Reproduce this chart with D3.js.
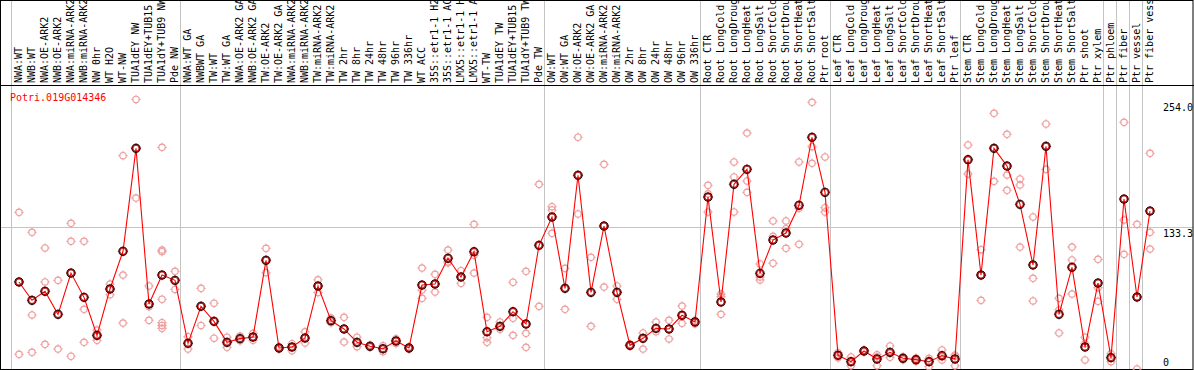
<!DOCTYPE html>
<html>
<head>
<meta charset="utf-8">
<script src="https://cdn.jsdelivr.net/npm/d3@7"></script>
<style>
  body { margin: 0; background: #fff; }
  text { font-family: "DejaVu Sans Mono", monospace; font-size: 10px; }
</style>
</head>
<body>
<svg id="chart" width="1194" height="370"></svg>
<script>

var geneName = "Potri.019G014346";

var samples = [
    "NWA:WT", "NWB:WT", "NWA:OE-ARK2", "NWB:OE-ARK2", "NWA:miRNA-ARK2", "NWB:miRNA-ARK2",
    "NW 0hr", "WT H2O", "WT-NW", "TUA1dEY NW", "TUA1dEY+TUB15 NW", "TUA1dY+TUB9 NW", "Pde NW",
    "NWA:WT GA", "NWBWT GA", "TW:WT", "TW:WT GA", "NWA:OE-ARK2 GA", "NWB:OE-ARK2 GA",
    "TW:OE-ARK2", "TW:OE-ARK2 GA", "NWA:miRNA-ARK2 GA", "NWB:miRNA-ARK2 GA", "TW:miRNA-ARK2",
    "TW:miRNA-ARK2 GA", "TW 2hr", "TW 8hr", "TW 24hr", "TW 48hr", "TW 96hr", "TW 336hr",
    "WT ACC", "35S::etr1-1 H2O", "35S::etr1-1 ACC", "LMX5::etr1-1 H2O", "LMX5::etr1-1 ACC",
    "WT-TW", "TUA1dEY TW", "TUA1dEY+TUB15 TW", "TUA1dY+TUB9 TW", "Pde TW",
    "OW:WT", "OW:WT GA", "OW:OE-ARK2", "OW:OE-ARK2 GA", "OW:miRNA-ARK2", "OW:miRNA-ARK2 GA",
    "OW 2hr", "OW 8hr", "OW 24hr", "OW 48hr", "OW 96hr", "OW 336hr",
    "Root CTR", "Root LongCold", "Root LongDrought", "Root LongHeat", "Root LongSalt",
    "Root ShortCold", "Root ShortDrought", "Root ShortHeat", "Root ShortSalt", "Ptr root",
    "Leaf CTR", "Leaf LongCold", "Leaf LongDrought", "Leaf LongHeat", "Leaf LongSalt",
    "Leaf ShortCold", "Leaf ShortDrought", "Leaf ShortHeat", "Leaf ShortSalt", "Ptr leaf",
    "Stem CTR", "Stem LongCold", "Stem LongDrought", "Stem LongHeat", "Stem LongSalt",
    "Stem ShortCold", "Stem ShortDrought", "Stem ShortHeat", "Stem ShortSalt",
    "Ptr shoot", "Ptr xylem", "Ptr phloem", "Ptr fiber", "Ptr vessel", "Ptr fiber vessel"
];

// first sample of each block, a grey rule is drawn in front of it
var groupStarts = [0, 13, 41, 53, 63, 73, 84, 85, 86, 87, 88];

var means = [
    82, 64.7, 73.2, 51.5, 90.4, 67.5, 31.7, 75.4, 110.9, 207.9, 61.2, 88.5, 83.5,
    24.2, 59.1, 44.9, 25.1, 28.6, 30.1, 102.4, 19.8, 20.7, 29.2, 78.2, 45.5, 37.7,
    25.1, 21.4, 19.1, 26.4, 19.8, 79.1, 80.1, 104.3, 86.7, 110.5, 35.1, 40.2, 54, 42.4, 116.5,
    143.2, 76, 182.5, 72.2, 134.7, 72.2, 22.3, 28.9, 38.3, 37.7, 50.6, 44.3,
    162, 63.1, 174, 188.1, 90.1, 121.5, 128.1, 154.2, 218.3, 166.4,
    12.9, 6.9, 17, 9.4, 15.7, 10.1, 8.8, 6.9, 12.6, 9.4,
    197.2, 88.5, 207.9, 191.2, 155.1, 98, 209.8, 51.5, 95.8,
    20.7, 81, 10.7, 160.1, 67.8, 148.8
];

var replicates = [
    [147.6, 82, 13.8], [128.8, 50.9, 15.7], [114, 82, 23.2], [83.5, 18.8], [137.2, 120.3, 12],
    [120.3, 56.2, 25.1], [36.7, 31, 27], [80, 75, 70], [201, 88.5, 43.3], [254, 208, 161],
    [78.2, 58.7, 45.9], [208.8, 112, 110.5, 65.7, 43.6, 41, 38.3], [92, 83.5, 75],
    [30.4, 24, 18.8], [76, 59, 41], [62, 45, 29], [30, 25, 20.4], [31, 28.6, 26.5],
    [33.6, 30, 27], [113.7, 102.5, 90.7], [21, 19.8, 18.6], [23.8, 20.7, 17.2], [35, 29, 24.5],
    [84, 78, 72], [48, 45.5, 43.5], [48.7, 38, 25.4], [30, 25, 21], [22.5, 21.4, 20.5],
    [22, 19, 16.3], [28.5, 26.4, 24], [21, 19.8, 18.6], [95.1, 74.4, 66.6], [89.2, 80, 72.5],
    [112, 101, 100], [92.6, 86.7, 80.7], [136.3, 107.1, 90.4], [48.7, 29.5, 25.1],
    [44.3, 40, 37.4], [81.7, 47.8, 31.7], [92, 33.6, 20.4], [174, 116.5, 59],
    [152.9, 149.8, 127.8], [94.8, 76, 56.2], [218.3, 182.5, 146], [105.2, 72.2, 40.2],
    [192.8, 134.7, 77.2], [78.2, 72.2, 65.7], [23.2, 22.3, 21.5], [33.9, 28.9, 18.8],
    [44.3, 38.3, 35.1], [45.9, 37.7, 28.3], [59.3, 50.6, 43], [46, 44.3, 42.5],
    [173, 165, 147.9], [70.6, 68.1, 51.5], [195, 180.9, 147.9], [222.3, 177.1, 166.4],
    [98.9, 86.7, 83.8], [139.4, 125, 99.6], [139.4, 132.2, 113.7], [195, 151.4, 117.5],
    [251.2, 209.4, 193.8], [199.7, 152, 147.9],
    [15.4, 12.9, 10.5], [11.3, 6.9, 3.1], [18, 17, 16], [13.5, 11.5, 3.1], [21.7, 15, 11],
    [11.5, 10, 8.8], [10.3, 8.8, 7], [10.1, 8, 2.2], [17.9, 11.4, 8.5], [13.2, 12, 3.1],
    [211, 197, 183.7], [112.4, 88.5, 64.7], [240.9, 208, 176.8], [221.1, 182.7, 168.3],
    [179, 173.3, 114.9], [143.2, 85.4, 64.1], [230.8, 210, 188.1], [66.6, 55.6, 33.9],
    [114.9, 102.7, 70.6], [29.9, 23.7, 8.5], [103.3, 76.6, 63.8], [14.4, 10.7, 6.9],
    [232.4, 140.4, 108], [136.3, 67.8, 0], [203.2, 128.8, 113]
];

var yTicks = [254.0, 133.3, 0];
var yMax = 266.6;   // top of the plot box, twice the middle rule


var svg = d3.select("#chart"),
    width = +svg.attr("width"),
    height = +svg.attr("height");

var labelBottom = 85,
    plotBottom = 369;

var x = d3.scaleBand()
    .domain(d3.range(samples.length))
    .range([12.5, 12.5 + 13 * samples.length]);

var y = d3.scaleLinear()
    .domain([0, yMax])
    .range([plotBottom, labelBottom + 1]);

function cx(i) { return x(i) + 6.5; }

// grey rules between the sample blocks and the middle rule
svg.append("g")
    .selectAll("line")
    .data(groupStarts)
    .join("line")
    .attr("x1", function (d) { return Math.floor(x(d) - 1.5) + 0.5; })
    .attr("x2", function (d) { return Math.floor(x(d) - 1.5) + 0.5; })
    .attr("y1", 0)
    .attr("y2", plotBottom)
    .attr("stroke", "#c4c4c4");

svg.append("line")
    .attr("x1", 1).attr("x2", width - 1)
    .attr("y1", Math.floor(y(yMax / 2)) + 0.5)
    .attr("y2", Math.floor(y(yMax / 2)) + 0.5)
    .attr("stroke", "#c4c4c4");

// sample names, rotated; the long ones run off the top like in the original
svg.append("g")
    .selectAll("text")
    .data(samples)
    .join("text")
    .attr("transform", function (d, i) { return "translate(" + (cx(i) + 3) + "," + (labelBottom - 2) + ") rotate(-90)"; })
    .attr("fill", "#000")
    .text(function (d) { return d; });

// frame
svg.append("rect")
    .attr("x", 0.5).attr("y", 0.5)
    .attr("width", width - 1.5)
    .attr("height", plotBottom)
    .attr("fill", "none")
    .attr("stroke", "#000");

svg.append("line")
    .attr("x1", 0).attr("x2", width)
    .attr("y1", labelBottom + 0.5).attr("y2", labelBottom + 0.5)
    .attr("stroke", "#000");

// right hand axis
var axis = svg.append("g")
    .attr("transform", "translate(" + 1163 + ",0)")
    .call(d3.axisRight(y)
        .tickValues(yTicks)
        .tickSize(0)
        .tickPadding(0)
        .tickFormat(function (d) { return d === 0 ? "0" : d3.format(".1f")(d); }));
axis.select(".domain").remove();
axis.selectAll("text")
    .attr("font-family", "DejaVu Sans Mono, monospace")
    .attr("font-size", 10)
    .attr("fill", "#000")
    .attr("dy", function (d) { return d === 0 ? "-0.33em" : (d === yMax / 2 ? "0.9em" : "1.1em"); });

svg.append("text")
    .attr("x", 10)
    .attr("y", 101)
    .attr("fill", "#f00")
    .text(geneName);

// little ringed marker with four ticks
function marker(g, r, colour, width) {
    g.append("circle")
        .attr("r", r)
        .attr("fill", "none")
        .attr("stroke", colour)
        .attr("stroke-width", width);
    g.append("path")
        .attr("d", "M0," + (-r - 1.5) + "V" + (-r + 0.5) +
                   "M0," + (r - 0.5) + "V" + (r + 1.5) +
                   "M" + (-r - 1.5) + ",0H" + (-r + 0.5) +
                   "M" + (r - 0.5) + ",0H" + (r + 1.5))
        .attr("stroke", colour)
        .attr("stroke-width", 1);
}

var reps = [];
replicates.forEach(function (list, i) {
    list.forEach(function (v) { reps.push({ i: i, v: v }); });
});

svg.append("g")
    .selectAll("g")
    .data(reps)
    .join("g")
    .attr("transform", function (d) { return "translate(" + cx(d.i) + "," + y(d.v) + ")"; })
    .each(function () { marker(d3.select(this), 3.2, "#ee9c9c", 1.1); });

var line = d3.line()
    .x(function (d, i) { return cx(i); })
    .y(function (d) { return y(d); });

svg.append("path")
    .datum(means)
    .attr("d", line)
    .attr("fill", "none")
    .attr("stroke", "#f00")
    .attr("stroke-width", 1.1);

svg.append("g")
    .selectAll("g")
    .data(means)
    .join("g")
    .attr("transform", function (d, i) { return "translate(" + cx(i) + "," + y(d) + ")"; })
    .each(function () {
        var g = d3.select(this);
        marker(g, 3.6, "#f00", 1.2);
        g.append("circle").attr("r", 4.1).attr("fill", "none").attr("stroke", "#000").attr("stroke-width", 0.9);
        g.append("circle").attr("r", 3).attr("fill", "none").attr("stroke", "#600").attr("stroke-width", 0.6);
    });

</script>
</body>
</html>
